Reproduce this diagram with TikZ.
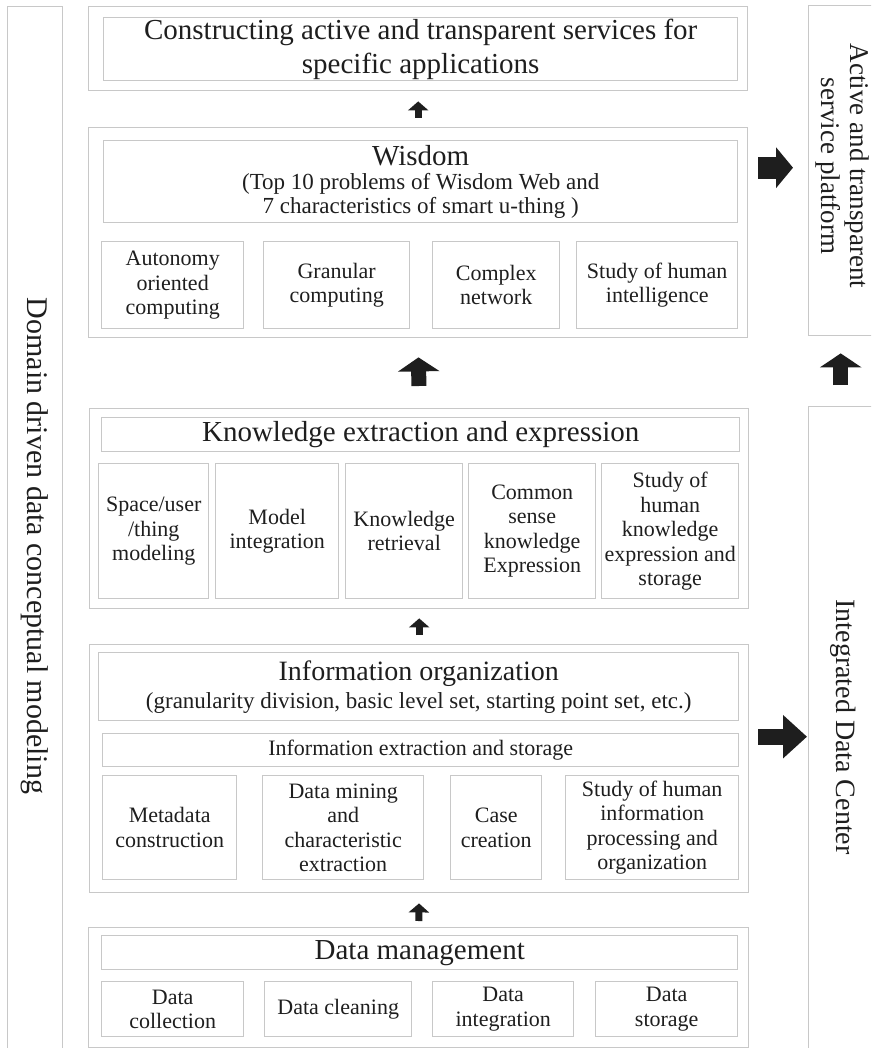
\documentclass[tikz,border=0pt]{standalone}
\usepackage{fontspec}
\setmainfont{Liberation Serif}
\usetikzlibrary{arrows.meta}
\definecolor{linegray}{RGB}{200,200,200}
\definecolor{ink}{RGB}{30,30,30}
\newcommand{\fs}[2]{\fontsize{#1}{#2}\selectfont}
\begin{document}
\begin{tikzpicture}[x=1pt,y=-1pt,
  frame/.style={draw=linegray, line width=1.4pt, inner sep=0pt, anchor=north west,
                align=center, text=ink},
  big/.style={font=\fs{29}{34}},
  sub/.style={font=\fs{22}{24.5}},
  vtext/.style={rotate=-90, align=center, text=ink, inner sep=0pt},
  upsmall/.style={-{Triangle[width=20pt,length=9pt]}, line width=7pt, ink},
  upbig/.style={-{Triangle[width=41pt,length=14pt]}, line width=15pt, ink},
]
\useasboundingbox (0,0) rectangle (871,1048);
\clip (0,0) rectangle (871,1048);

% side columns
\node[frame, minimum width=55pt, minimum height=1060pt] (left) at (7,6) {};
\node[frame, minimum width=64pt, minimum height=330pt] (rtop) at (808,5) {};
\node[frame, minimum width=64pt, minimum height=660pt] (rbot) at (808,406) {};
\node[vtext, font=\fs{30}{32}] (lefttxt) at (35,546) {Domain driven data conceptual modeling};
\node[vtext, font=\fs{27}{29}] (rtoptxt) at (842,166) {Active and transparent\\service platform};
\node[vtext, font=\fs{28}{30}] (rbottxt) at (843,727) {Integrated Data Center};

% application layer
\node[frame, minimum width=659pt, minimum height=84pt] (cons) at (88,6) {};
\node[frame, big, minimum width=634pt, minimum height=63pt] (consT) at (103,17)
  {Constructing active and transparent services for\\specific applications};

% wisdom layer
\node[frame, minimum width=659pt, minimum height=210pt] (wis) at (88,127) {};
\node[frame, font=\fs{23}{23.5}, minimum width=634pt, minimum height=82pt] (wisT) at (103,140)
  {{\fs{29}{30}Wisdom}\\[1pt](Top 10 problems of Wisdom Web and\\7 characteristics of smart u-thing )};
\node[frame, sub, minimum width=142pt, minimum height=87pt] (w1) at (101,241) {Autonomy\\oriented\\computing};
\node[frame, sub, minimum width=146pt, minimum height=87pt] (w2) at (263,241) {Granular\\computing};
\node[frame, sub, minimum width=127pt, minimum height=87pt] (w3) at (432,241) {Complex\\network};
\node[frame, sub, minimum width=161pt, minimum height=87pt] (w4) at (576,241) {Study of human\\intelligence};

% knowledge layer
\node[frame, minimum width=659pt, minimum height=200pt] (know) at (89,408) {};
\node[frame, big, minimum width=638pt, minimum height=34pt] (knowT) at (101,417) {Knowledge extraction and expression};
\node[frame, sub, minimum width=110pt, minimum height=135pt] (k1) at (98,463) {Space/user\\/thing\\modeling};
\node[frame, sub, minimum width=123pt, minimum height=135pt] (k2) at (215,463) {Model\\integration};
\node[frame, sub, minimum width=117pt, minimum height=135pt] (k3) at (345,463) {Knowledge\\retrieval};
\node[frame, sub, minimum width=127pt, minimum height=135pt] (k4) at (468,463) {Common\\sense\\knowledge\\Expression};
\node[frame, sub, minimum width=137pt, minimum height=135pt] (k5) at (601,463) {Study of\\human\\knowledge\\expression and\\storage};

% information layer
\node[frame, minimum width=659pt, minimum height=248pt] (info) at (89,644) {};
\node[frame, font=\fs{23}{24}, minimum width=640pt, minimum height=68pt] (infoT) at (98,652)
  {{\fs{28}{29}Information organization}\\[4pt](granularity division, basic level set, starting point set, etc.)};
\node[frame, font=\fs{22}{24}, minimum width=636pt, minimum height=33pt] (infoX) at (102,733) {Information extraction and storage};
\node[frame, sub, minimum width=134pt, minimum height=104pt] (i1) at (102,775) {Metadata\\construction};
\node[frame, sub, minimum width=161pt, minimum height=104pt] (i2) at (262,775) {Data mining\\and\\characteristic\\extraction};
\node[frame, sub, minimum width=91pt, minimum height=104pt] (i3) at (450,775) {Case\\creation};
\node[frame, sub, minimum width=173pt, minimum height=104pt] (i4) at (565,775) {Study of human\\information\\processing and\\organization};

% data layer
\node[frame, minimum width=660pt, minimum height=120pt] (dm) at (88,927) {};
\node[frame, font=\fs{29}{30}, minimum width=636pt, minimum height=34pt] (dmT) at (101,935) {Data management};
\node[frame, sub, minimum width=142pt, minimum height=55pt] (d1) at (101,981) {Data\\collection};
\node[frame, sub, minimum width=147pt, minimum height=55pt] (d2) at (264,981) {Data cleaning};
\node[frame, sub, minimum width=141pt, minimum height=55pt] (d3) at (432,981) {Data\\integration};
\node[frame, sub, minimum width=142pt, minimum height=55pt] (d4) at (595,981) {Data\\storage};

% flow between layers
\draw[upsmall, shorten <=9pt, shorten >=10pt] (wis.north) -- (cons.south);
\draw[upbig, shorten <=22pt, shorten >=19pt] (know.north) -- (wis.south);
\draw[upsmall, shorten <=9pt, shorten >=9pt] (info.north) -- (know.south);
\draw[upsmall, shorten <=6pt, shorten >=10pt] (dm.north) -- (info.south);
\draw[upbig, shorten <=21pt, shorten >=17pt] (rbot.north) -- (rtop.south);

% outputs to the platforms
\draw[-{Triangle[width=40pt,length=17pt]}, line width=22pt, ink, shorten <=10pt, shorten >=15pt]
  ([yshift=65pt]wis.east) -- ([yshift=65pt]wis.east -| rtop.west);
\draw[-{Triangle[width=42pt,length=24pt]}, line width=16pt, ink, shorten <=9pt, shorten >=1pt]
  ([yshift=32pt]info.east) -- ([yshift=32pt]info.east -| rbot.west);
\end{tikzpicture}
\end{document}
